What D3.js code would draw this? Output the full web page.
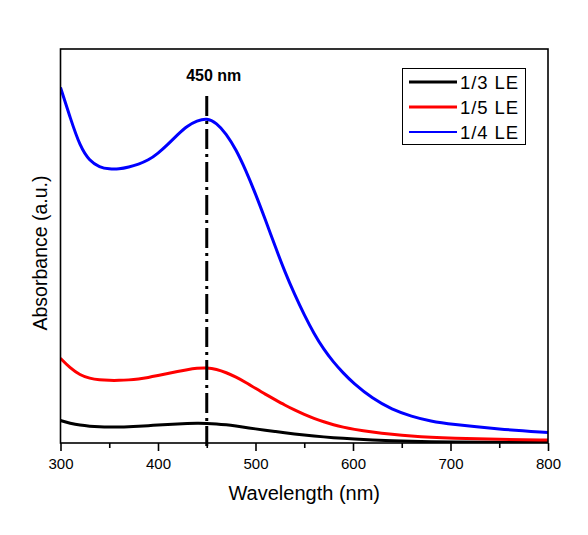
<!DOCTYPE html>
<html>
<head>
<meta charset="utf-8">
<script src="https://cdn.jsdelivr.net/npm/d3@7"></script>
<style>
  html, body { margin: 0; padding: 0; background: #fff; }
  svg { display: block; font-family: Arial, "Liberation Sans", sans-serif; }
</style>
</head>
<body>
<svg id="chart" width="588" height="535"></svg>
<script>
// ---- data ----
const seriesNames = ["1/3 LE", "1/5 LE", "1/4 LE"];
const seriesColors = ["#000000", "#ff0000", "#0000ff"];

const wavelengths = [300,310,320,330,340,350,360,370,380,390,400,410,420,430,440,450,460,470,480,490,500,510,520,530,540,550,560,570,580,590,600,620,640,660,680,700,750,800];

const abs13 = [0.228,0.200,0.180,0.170,0.165,0.163,0.163,0.165,0.170,0.176,0.182,0.188,0.194,0.198,0.200,0.199,0.195,0.185,0.172,0.158,0.143,0.130,0.117,0.104,0.092,0.081,0.071,0.062,0.054,0.047,0.041,0.031,0.023,0.017,0.013,0.010,0.006,0.005];

const abs15 = [0.86,0.76,0.69,0.655,0.64,0.635,0.635,0.64,0.65,0.665,0.685,0.705,0.725,0.745,0.76,0.765,0.75,0.715,0.67,0.615,0.555,0.495,0.44,0.385,0.335,0.29,0.25,0.215,0.185,0.16,0.14,0.11,0.088,0.07,0.057,0.048,0.036,0.03];

const abs14 = [3.61,3.30,3.01,2.86,2.80,2.78,2.78,2.80,2.83,2.87,2.94,3.03,3.13,3.22,3.27,3.30,3.25,3.14,2.98,2.77,2.53,2.27,2.00,1.74,1.51,1.30,1.11,0.95,0.82,0.71,0.61,0.45,0.34,0.27,0.22,0.19,0.14,0.107];

const xTicks = [300, 400, 500, 600, 700, 800];
const xMinorTicks = [350, 450, 550, 650, 750];
const markerWl = 450;
const markerLabel = "450 nm";
const xTitle = "Wavelength (nm)";
const yTitle = "Absorbance (a.u.)";

// ---- drawing ----
const svg = d3.select("#chart");
const L = 60.5, R = 548, T = 49, B = 443;
const x = d3.scaleLinear().domain([300, 800]).range([L, R]);
const y = d3.scaleLinear().domain([0, 4]).range([B, T]);

const series = [
  {name: seriesNames[0], color: seriesColors[0], v: abs13, w: 3},
  {name: seriesNames[1], color: seriesColors[1], v: abs15, w: 3},
  {name: seriesNames[2], color: seriesColors[2], v: abs14, w: 3}
];

const line = d3.line().x(d => x(d[0])).y(d => y(d[1])).curve(d3.curveBasis);

svg.append("clipPath").attr("id", "clip")
  .append("rect").attr("x", L).attr("y", T).attr("width", R - L).attr("height", B - T);

const gLines = svg.append("g").attr("clip-path", "url(#clip)");
series.forEach(s => {
  gLines.append("path")
    .datum(wavelengths.map((w, i) => [w, s.v[i]]))
    .attr("fill", "none")
    .attr("stroke", s.color)
    .attr("stroke-width", s.w)
    .attr("stroke-linejoin", "round")
    .attr("d", line);
});

// marker line
svg.append("line")
  .attr("x1", x(markerWl)).attr("x2", x(markerWl))
  .attr("y1", 96).attr("y2", B + 8)
  .attr("stroke", "#000").attr("stroke-width", 3)
  .attr("stroke-dasharray", "20,5,3,5");
svg.append("text")
  .attr("x", x(markerWl) + 7).attr("y", 81)
  .attr("text-anchor", "middle")
  .attr("font-size", 16).attr("font-weight", "bold")
  .text(markerLabel);

// frame
svg.append("rect")
  .attr("x", L).attr("y", T).attr("width", R - L).attr("height", B - T)
  .attr("fill", "none").attr("stroke", "#000").attr("stroke-width", 1.6);

// x axis
const xAxis = d3.axisBottom(x).tickValues(xTicks).tickSize(8).tickPadding(7).tickFormat(d3.format("d"));
const gx = svg.append("g").attr("transform", `translate(0,${B})`).call(xAxis);
gx.select(".domain").remove();
gx.selectAll(".tick line").attr("stroke-width", 1.6);
gx.selectAll(".tick text").attr("font-size", 15).attr("font-family", "Arial, 'Liberation Sans', sans-serif").attr("fill", "#000");
const xMinor = d3.axisBottom(x).tickValues(xMinorTicks).tickSize(5).tickFormat("");
const gxm = svg.append("g").attr("transform", `translate(0,${B})`).call(xMinor);
gxm.select(".domain").remove();
gxm.selectAll(".tick line").attr("stroke-width", 1.6);

// titles
svg.append("text")
  .attr("x", (L + R) / 2).attr("y", 500)
  .attr("text-anchor", "middle").attr("font-size", 20)
  .text(xTitle);
svg.append("text")
  .attr("transform", `translate(47,${(T + B) / 2 + 7}) rotate(-90)`)
  .attr("text-anchor", "middle").attr("font-size", 19.5)
  .text(yTitle);

// legend
const lg = svg.append("g");
lg.append("rect").attr("x", 402.5).attr("y", 68.5).attr("width", 123).attr("height", 76)
  .attr("fill", "#fff").attr("stroke", "#000").attr("stroke-width", 1);
series.forEach((s, i) => {
  const ly = 82 + i * 25;
  lg.append("line").attr("x1", 409).attr("x2", 457).attr("y1", ly).attr("y2", ly)
    .attr("stroke", s.color).attr("stroke-width", i === 2 ? 2 : 3);
  lg.append("text").attr("x", 460).attr("y", ly + 6.5)
    .attr("font-size", 18.5).attr("letter-spacing", 0.9)
    .text(s.name);
});
</script>
</body>
</html>
